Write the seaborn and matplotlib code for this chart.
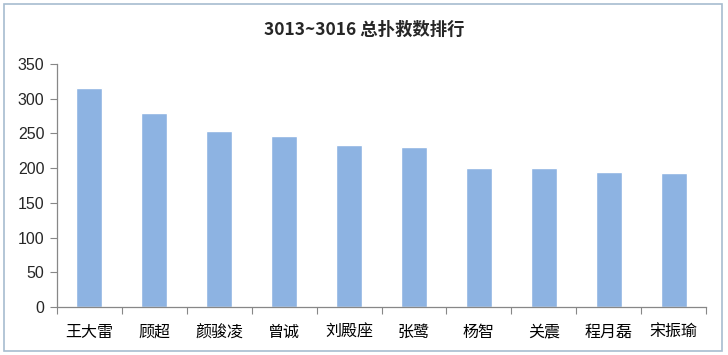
import matplotlib
matplotlib.use("Agg")
import matplotlib.pyplot as plt
import matplotlib.patches as mpatches
import seaborn as sns
import pandas as pd
import numpy as np

names = ["王大雷", "顾超", "颜骏凌", "曾诚", "刘殿座", "张鹭", "杨智", "关震", "程月磊", "宋振瑜"]
saves = [315, 279, 253, 246, 233, 230, 200, 200, 194, 193]
y_ticks = [0, 50, 100, 150, 200, 250, 300, 350]
title = "3013~3016 总扑救数排行"

veri = pd.DataFrame({"name": names, "saves": saves})

sns.set_style("white")
plt.rcParams["font.family"] = ["Noto Sans CJK SC", "DejaVu Sans"]

fig = plt.figure(figsize=(7.28, 3.55), dpi=100)
ax = fig.add_axes([57 / 728, 1 - 307 / 355, (706 - 57) / 728, (307 - 64) / 355])

sns.barplot(x="name", y="saves", data=veri, color="#8DB3E2", width=0.4,
            saturation=1, ax=ax)

ax.set_xlim(-0.5, len(names) - 0.5)
ax.set_ylim(0, 350)
ax.set_yticks(y_ticks)
ax.set_xlabel("")
ax.set_ylabel("")

# x ticks on the category boundaries, labels in between
ax.set_xticks(np.arange(-0.5, len(names)), minor=False)
ax.set_xticklabels([])
ax.set_xticks(np.arange(len(names)), minor=True)
ax.set_xticklabels(names, minor=True, fontsize=11.5, color="black", fontweight="light")
ax.tick_params(axis="x", which="major", length=5, color="#878787", direction="out", bottom=True)
ax.tick_params(axis="x", which="minor", length=0, pad=12)
ax.tick_params(axis="y", length=5, color="#878787", direction="out", left=True,
               labelsize=11.5, pad=4)
for lab in ax.get_yticklabels():
    lab.set_family(["Liberation Sans", "DejaVu Sans"])

for side in ["top", "right"]:
    ax.spines[side].set_visible(False)
for side in ["left", "bottom"]:
    ax.spines[side].set_color("#878787")
    ax.spines[side].set_linewidth(0.9)

fig.text(0.5, 1 - 30 / 355, title, ha="center", va="center",
         fontsize=12.5, fontweight="bold")

# outer chart border
border = mpatches.Rectangle((4 / 728, 4 / 355), 718 / 728, 347 / 355,
                            transform=fig.transFigure, fill=False,
                            edgecolor="#A7BCD0", linewidth=1.2)
fig.patches.append(border)

fig.savefig("out.png", dpi=100)
